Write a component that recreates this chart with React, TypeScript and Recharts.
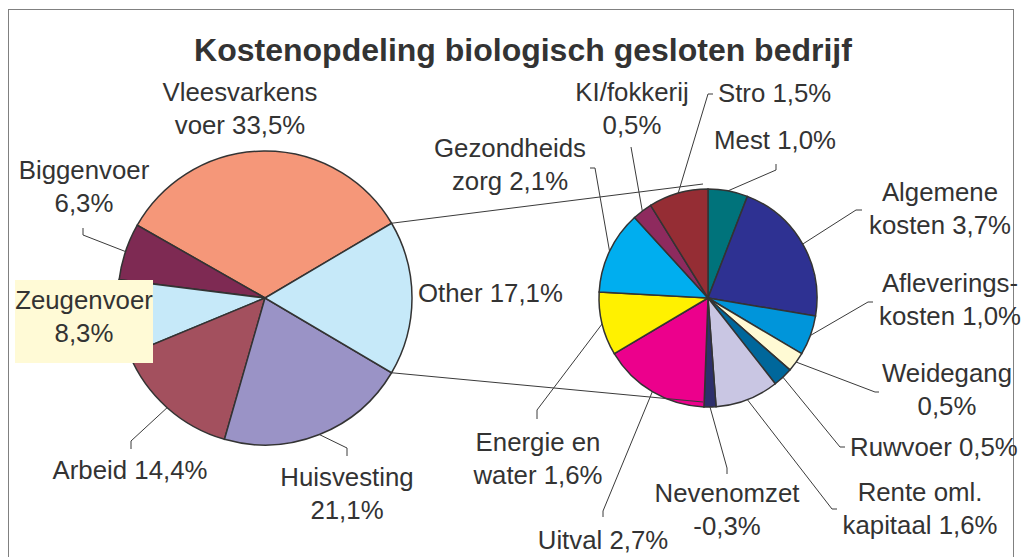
import { PieChart, Pie, Cell } from "recharts";

// main pie (counter-clockwise, "Other" centred on the right)
const mainNames = ["Vleesvarkens voer", "Biggenvoer", "Zeugenvoer", "Arbeid", "Huisvesting", "Other"];
const mainValues = [33.5, 6.3, 8.3, 14.4, 21.1, 17.1];
const mainColors = ["#F59779", "#7E2A53", "#C6E9F9", "#A3505E", "#9A93C6", "#C6E9F9"];

// breakdown of "Other" (clockwise from the top)
const otherNames = [
  "Mest",
  "Algemene kosten",
  "Afleverings- kosten",
  "Weidegang",
  "Ruwvoer",
  "Rente oml. kapitaal",
  "Nevenomzet",
  "Uitval",
  "Energie en water",
  "Gezondheids zorg",
  "KI/fokkerij",
  "Stro",
];
const otherValues = [1.0, 3.7, 1.0, 0.5, 0.5, 1.6, -0.3, 2.7, 1.6, 2.1, 0.5, 1.5];
const otherColors = [
  "#00737B", "#2E3192", "#0095DA", "#FFFAD4", "#00679B", "#C9C6E3",
  "#2E2F6B", "#EC008C", "#FFF100", "#00AEEF", "#8E2A5E", "#952D34",
];

const mainData = mainNames.map((name, i) => ({ name, value: mainValues[i] }));
const otherData = otherNames.map((name, i) => ({ name, value: otherValues[i] }));

const FONT = "'Liberation Sans', Arial, sans-serif";
const TXT = "#333333";
const FS = 25.8;
const LH = 33;

const L = { cx: 260, cy: 293, r: 147 };
const R = { cx: 703, cy: 293, r: 109 };

type Lay = {
  x: number;
  y: number;
  split: number;
  anchor?: "start" | "middle" | "end";
  path?: [number, number][];
  box?: [number, number, number, number];
};

const mainLayout: Lay[] = [
  { x: 240, y: 92, split: 1 },
  { x: 84, y: 170, split: 1, path: [[83, 235], [83, 228]] },
  { x: 84, y: 300, split: 1, box: [15, 280, 138, 83] },
  { x: 130, y: 470, split: 0, path: [[131, 441], [131, 449]] },
  { x: 347, y: 477, split: 1, path: [[347, 448], [347, 456]] },
  { x: 418, y: 293, split: 0, anchor: "start" },
];

const otherLayout: Lay[] = [
  { x: 775, y: 140, split: 0, path: [[776, 170], [776, 164]] },
  { x: 940, y: 192, split: 1, path: [[856, 210], [862, 210]] },
  { x: 950, y: 283, split: 1, path: [[868, 302], [873, 302]] },
  { x: 947, y: 373, split: 1, path: [[875, 392], [879, 392]] },
  { x: 850, y: 447, split: 0, anchor: "start", path: [[840, 447], [845, 447]] },
  { x: 920, y: 492, split: 2, path: [[832, 509], [837, 509]] },
  { x: 727, y: 493, split: 1, path: [[727, 468], [727, 474]] },
  { x: 603, y: 540, split: 0, path: [[603, 511], [603, 517]] },
  { x: 538, y: 442, split: 2, path: [[537, 410], [537, 419]] },
  { x: 510, y: 148, split: 1, path: [[595, 168], [590, 168]] },
  { x: 632, y: 92, split: 1, path: [[631, 147]] },
  { x: 718, y: 93, split: 0, anchor: "start", path: [[708, 94], [713, 94]] },
];

const fmt = (v: number) => `${v.toFixed(1).replace(".", ",")}%`;

function makeLabel(names: string[], values: number[], layout: Lay[]) {
  return (props: any) => {
    const { cx, cy, midAngle, outerRadius, index, startAngle, endAngle } = props;
    const lay = layout[index];
    const rad = (midAngle * Math.PI) / 180;
    const ex = cx + outerRadius * Math.cos(rad);
    const ey = cy - outerRadius * Math.sin(rad);
    const words = `${names[index]} ${fmt(values[index])}`.split(" ");
    const lines =
      lay.split > 0
        ? [words.slice(0, lay.split).join(" "), words.slice(lay.split).join(" ")]
        : [words.join(" ")];
    const pts = lay.path ? [[ex, ey], ...lay.path].map((p) => p.join(",")).join(" ") : null;

    // connector lines from the "Other" slice to the second pie
    let connectors = null;
    if (names[index] === "Other") {
      const a1 = (startAngle * Math.PI) / 180;
      const a2 = (endAngle * Math.PI) / 180;
      const p1 = [cx + outerRadius * Math.cos(a1), cy - outerRadius * Math.sin(a1)];
      const p2 = [cx + outerRadius * Math.cos(a2), cy - outerRadius * Math.sin(a2)];
      const top = p1[1] < p2[1] ? p1 : p2;
      const bot = p1[1] < p2[1] ? p2 : p1;
      connectors = (
        <g stroke="#3a3a3a" strokeWidth={1}>
          <line x1={top[0]} y1={top[1]} x2={R.cx} y2={R.cy - R.r} />
          <line x1={bot[0]} y1={bot[1]} x2={R.cx} y2={R.cy + R.r} />
        </g>
      );
    }

    return (
      <g key={`lbl-${names[index]}`}>
        {connectors}
        {pts && <polyline points={pts} fill="none" stroke="#3a3a3a" strokeWidth={1} />}
        {lay.box && (
          <rect x={lay.box[0]} y={lay.box[1]} width={lay.box[2]} height={lay.box[3]} fill="#FFFAD6" />
        )}
        {lines.map((t, i) => (
          <text
            key={i}
            x={lay.x}
            y={lay.y + i * LH}
            dy="0.36em"
            textAnchor={lay.anchor ?? "middle"}
            fontFamily={FONT}
            fontSize={FS}
            fill={TXT}
          >
            {t}
          </text>
        ))}
      </g>
    );
  };
}

const mainTotal = mainValues.reduce((a, b) => a + b, 0);
const otherDeg = (mainValues[mainValues.length - 1] / mainTotal) * 360;
const mainStart = otherDeg / 2;

export default function App() {
  return (
    <div style={{ position: "absolute", left: 0, top: 0, width: 1021, height: 557, overflow: "hidden", background: "#fff" }}>
      <div
        style={{
          position: "absolute",
          left: 8,
          top: 9,
          width: 1006,
          height: 600,
          border: "1px solid #808080",
          boxSizing: "border-box",
        }}
      />
      <div style={{ position: "absolute", left: 0, top: 0 }}>
        <PieChart width={1021} height={557}>
          <text
            x={523}
            y={61}
            textAnchor="middle"
            fontFamily={FONT}
            fontSize={32}
            fontWeight="bold"
            fill={TXT}
          >
            Kostenopdeling biologisch gesloten bedrijf
          </text>
          <Pie
            data={mainData}
            dataKey="value"
            cx={L.cx}
            cy={L.cy}
            outerRadius={L.r}
            startAngle={mainStart}
            endAngle={mainStart + 360}
            stroke="#333"
            strokeWidth={1.5}
            label={makeLabel(mainNames, mainValues, mainLayout)}
            labelLine={false}
            isAnimationActive={false}
          >
            {mainData.map((d, i) => (
              <Cell key={d.name} fill={mainColors[i]} />
            ))}
          </Pie>
          <Pie
            data={otherData}
            dataKey={(d: any) => Math.abs(d.value)}
            cx={R.cx}
            cy={R.cy}
            outerRadius={R.r}
            startAngle={90}
            endAngle={-270}
            stroke="#333"
            strokeWidth={1.5}
            label={makeLabel(otherNames, otherValues, otherLayout)}
            labelLine={false}
            isAnimationActive={false}
          >
            {otherData.map((d, i) => (
              <Cell key={d.name} fill={otherColors[i]} />
            ))}
          </Pie>
        </PieChart>
      </div>
    </div>
  );
}
